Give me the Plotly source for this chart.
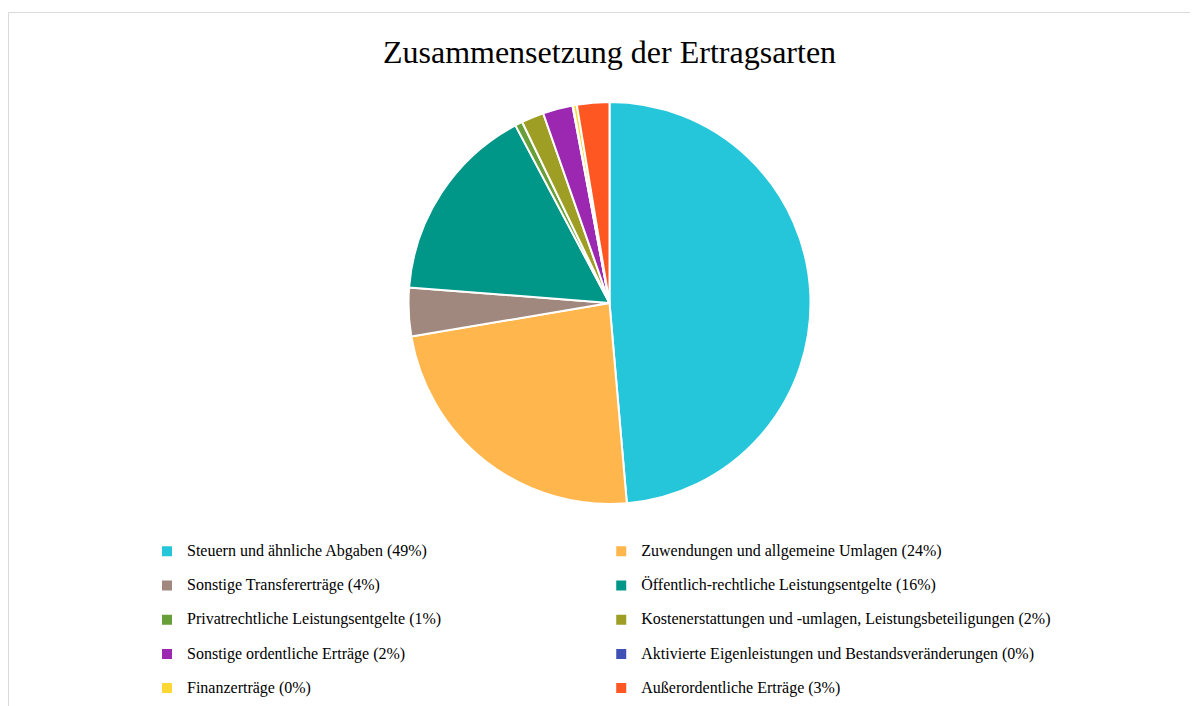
import plotly.graph_objects as go

categories = [
    "Steuern und ähnliche Abgaben",
    "Zuwendungen und allgemeine Umlagen",
    "Sonstige Transfererträge",
    "Öffentlich-rechtliche Leistungsentgelte",
    "Privatrechtliche Leistungsentgelte",
    "Kostenerstattungen und -umlagen, Leistungsbeteiligungen",
    "Sonstige ordentliche Erträge",
    "Aktivierte Eigenleistungen und Bestandsveränderungen",
    "Finanzerträge",
    "Außerordentliche Erträge",
]
shares = [48.6, 23.7, 3.9, 16.0, 0.6, 1.8, 2.4, 0.05, 0.3, 2.6]
pct_labels = ["49%", "24%", "4%", "16%", "1%", "2%", "2%", "0%", "0%", "3%"]
colors = ["#26C6DA", "#FFB74D", "#A1887F", "#009688", "#689F38",
          "#9E9D24", "#9C27B0", "#3F51B5", "#FDD835", "#FF5722"]

W, H = 1198, 706
legend_labels = [
    f" <br><span style='font-size:16px'>{c} ({p})</span>"
    for c, p in zip(categories, pct_labels)
]

fig = go.Figure(go.Pie(
    labels=legend_labels,
    values=shares,
    marker=dict(colors=colors, line=dict(color="white", width=2)),
    sort=False,
    direction="clockwise",
    rotation=0,
    textinfo="none",
    hovertemplate="%{label}: %{value}<extra></extra>",
    domain=dict(x=[400.5 / W, 802.5 / W], y=[1 - 496 / H, 1 - 94 / H]),
))

fig.update_layout(
    width=W, height=H,
    margin=dict(l=0, r=0, t=0, b=0),
    paper_bgcolor="white",
    font=dict(family="Liberation Serif, Times New Roman, serif", color="#000000"),
    title=dict(text="Zusammensetzung der Ertragsarten", x=601.5 / W, xanchor="center",
               y=1 - 44 / H, yanchor="middle",
               font=dict(size=32, family="Liberation Serif, Times New Roman, serif", color="#000000")),
    showlegend=True,
    legend=dict(
        orientation="h",
        x=139 / W, xanchor="left",
        y=11.6 / H, yanchor="bottom",
        valign="bottom",
        font=dict(size=12, family="Liberation Serif, Times New Roman, serif", color="#000000"),
        traceorder="normal",
    ),
    shapes=[dict(type="rect", xref="paper", yref="paper",
                 x0=0.5 / W, x1=1.05, y0=-0.05, y1=1 - 4.5 / H,
                 line=dict(color="#D9D9D9", width=1), fillcolor="rgba(0,0,0,0)")],
)

fig.write_html("out.html")
